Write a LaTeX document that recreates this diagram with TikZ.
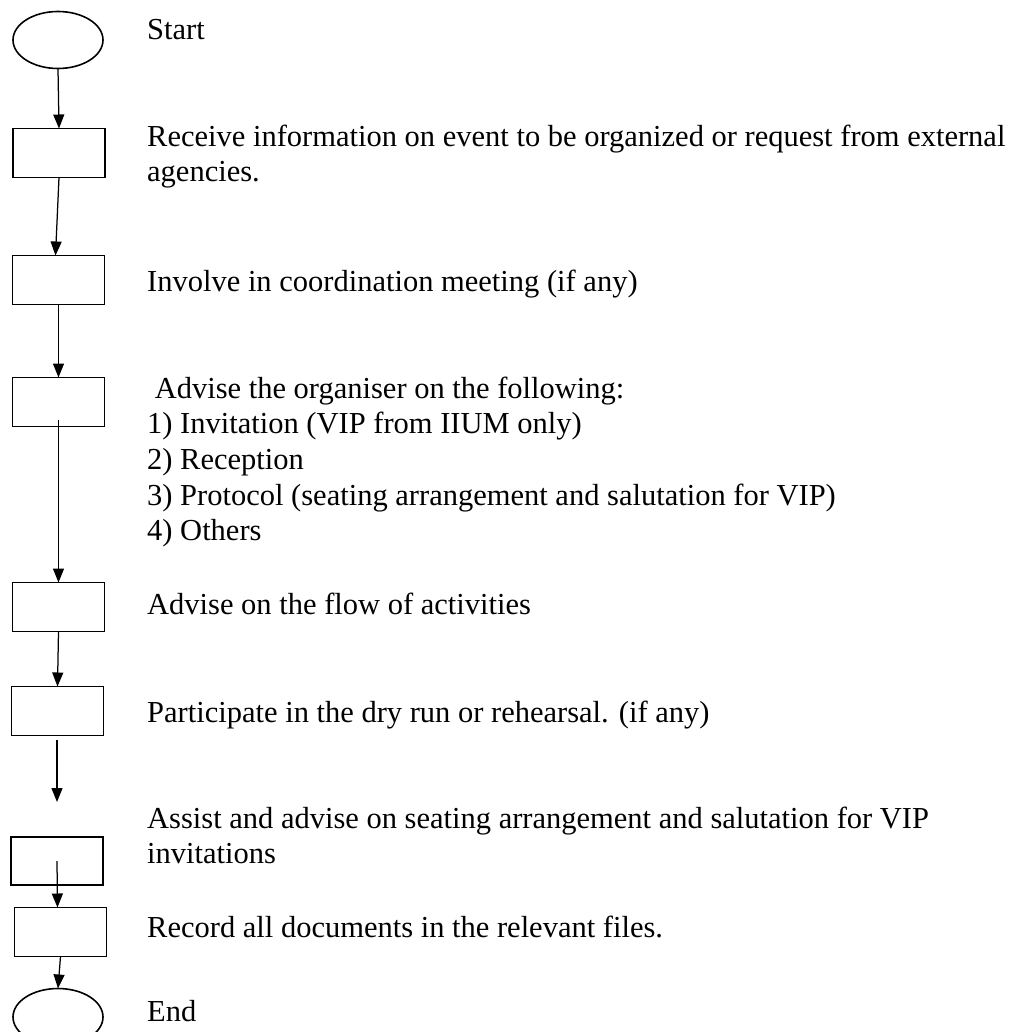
\documentclass[tikz,border=0pt]{standalone}
\usepackage{fontspec}
\setmainfont{Liberation Serif}
\usetikzlibrary{arrows.meta,shapes.geometric}
\begin{document}
\begin{tikzpicture}[x=1pt,y=-1pt,
  stepbox/.style={draw,line width=1.7pt,minimum width=92pt,minimum height=49pt,inner sep=0pt,outer sep=0pt},
  term/.style={draw,ellipse,line width=1.6pt,minimum width=90pt,minimum height=57pt,inner sep=0pt,outer sep=0pt},
  lbl/.style={anchor=base west,inner sep=0pt,font=\fontsize{30.5}{35}\selectfont},
  conn/.style={line width=1.25pt,-{Triangle[width=11pt,length=14pt]}}]
\useasboundingbox (0,0) rectangle (1023,1032);
\node[term] (start) at (58,40) {};
\node[stepbox] (b1) at (59,153) {};
\node[stepbox] (b2) at (58.5,280) {};
\node[stepbox] (b3) at (58.5,402) {};
\node[stepbox] (b4) at (58.5,607) {};
\node[stepbox, minimum height=49pt] (b5) at (57.5,711) {};
\node[stepbox, minimum height=48pt] (b6) at (57,861) {};
\node[stepbox] (b7) at (60.5,932) {};
\node[term] (end) at (58,1017) {};
\coordinate (free) at (57,802);
\coordinate (free0) at (57,740);

\node[lbl] (t0) at (147,40) {Start};
\node[lbl] (t1a) at (147,147) {Receive information on event to be organized or request from external};
\node[lbl] (t1b) at (147,182) {agencies.};
\node[lbl] (t2) at (147,291) {Involve in coordination meeting (if any)};
\node[lbl] (t3a) at (147,398) {\ Advise the organiser on the following:};
\node[lbl] (t3b) at (147,433) {1) Invitation (VIP from IIUM only)};
\node[lbl] (t3c) at (147,469) {2) Reception};
\node[lbl] (t3d) at (147,505) {3) Protocol (seating arrangement and salutation for VIP)};
\node[lbl] (t3e) at (147,540) {4) Others};
\node[lbl] (t4) at (147,614) {Advise on the flow of activities};
\node[lbl] (t5) at (147,722) {Participate in the dry run or rehearsal. (if any)};
\node[lbl] (t6a) at (147,828) {Assist and advise on seating arrangement and salutation for VIP};
\node[lbl] (t6b) at (147,863) {invitations};
\node[lbl] (t7) at (147,937) {Record all documents in the relevant files.};
\node[lbl] (t8) at (147,1021) {End};

\draw[conn] (start.south) -- (b1.north);
\draw[conn] (b1.south) -- ([xshift=-3pt]b2.north);
\draw[conn] (b2.south) -- (b3.north);
\draw[conn] ([yshift=7pt]b3.south) -- (b4.north);
\draw[conn] (b4.south) -- (b5.north);
\draw[conn] (free0) -- (free);
\draw[conn] (b6.center) -- ([xshift=-3pt]b7.north);
\draw[conn] (b7.south) -- (end.north);
\end{tikzpicture}
\end{document}
